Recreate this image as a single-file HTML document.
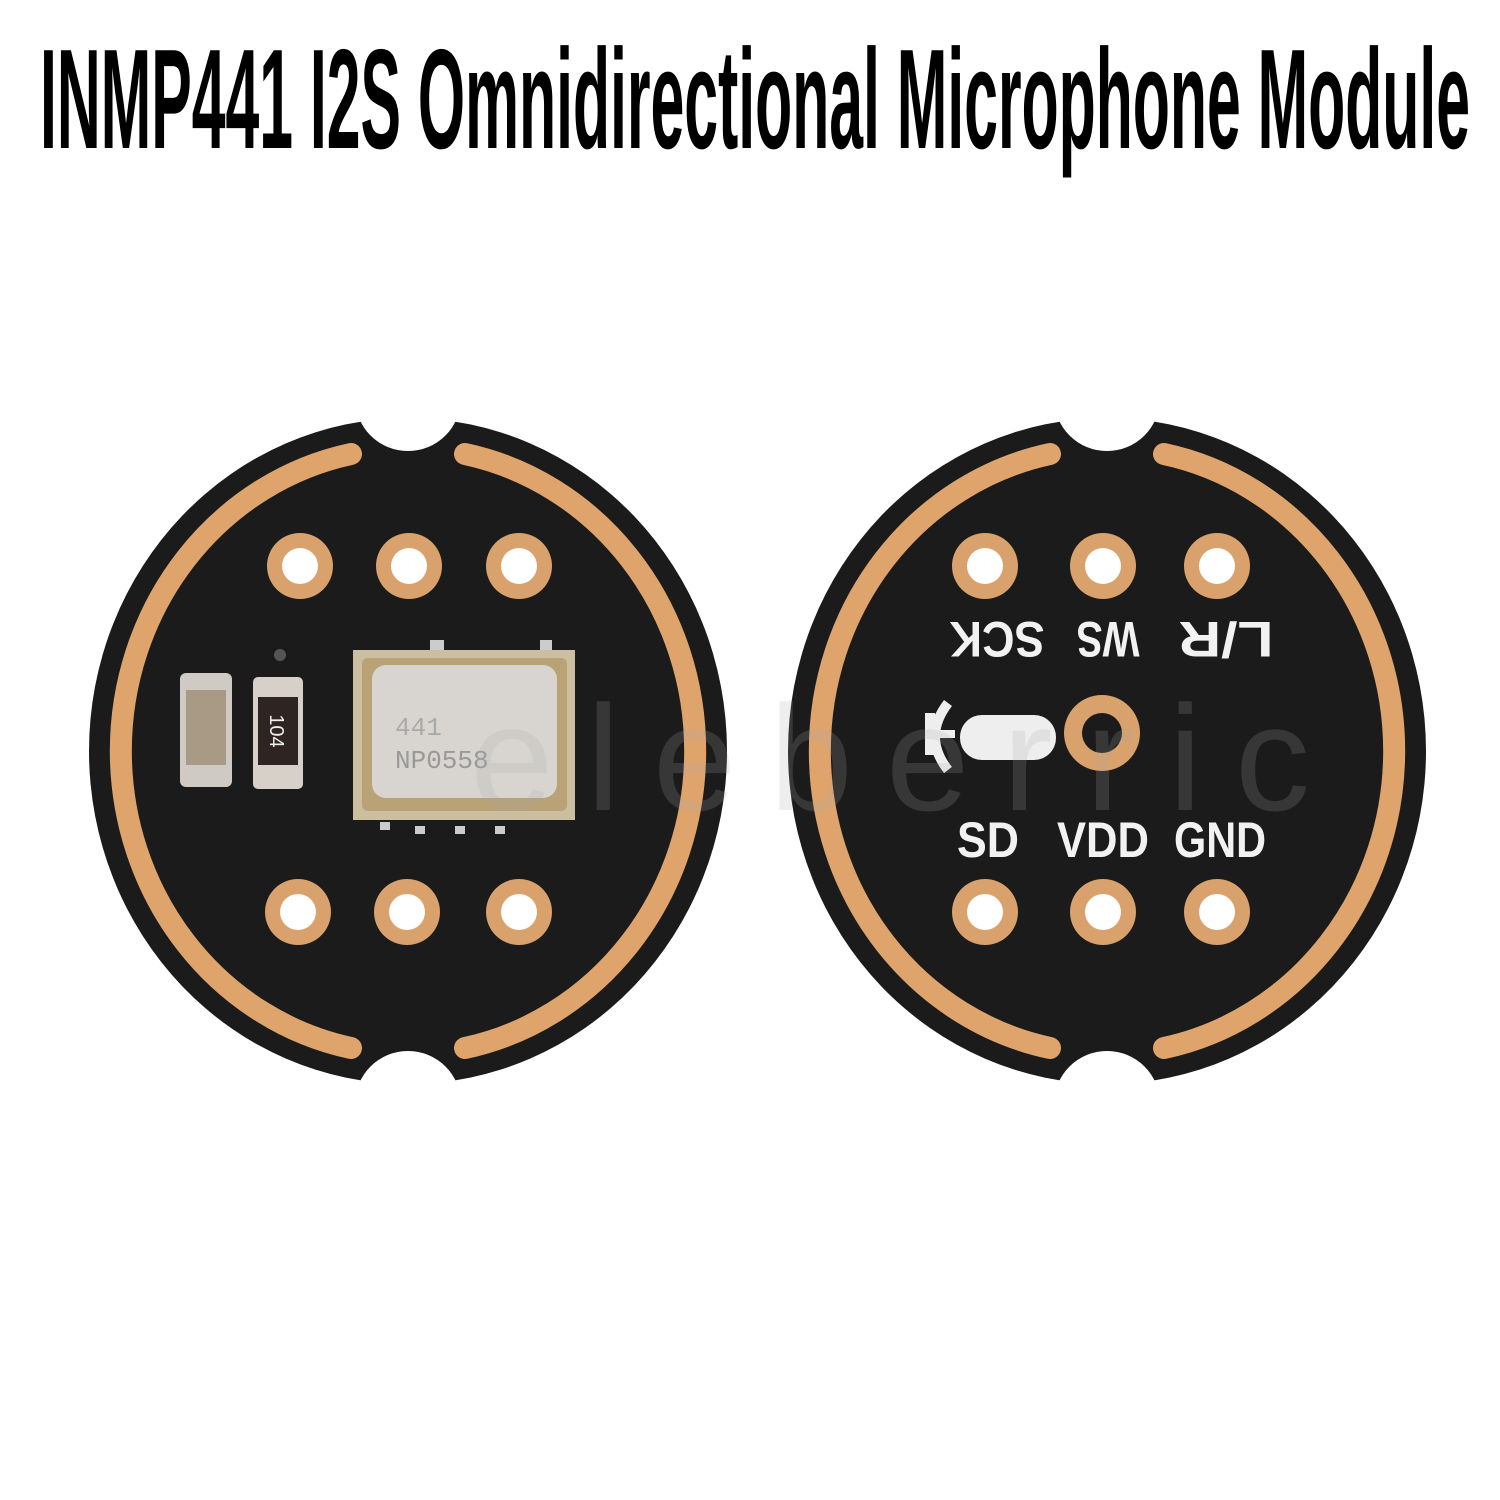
<!DOCTYPE html>
<html><head><meta charset="utf-8"><style>
html,body{margin:0;padding:0;background:#fff;}
svg{display:block;}
</style></head><body>
<svg width="1500" height="1500" viewBox="0 0 1500 1500" xmlns="http://www.w3.org/2000/svg">
<rect width="1500" height="1500" fill="#fff"/>
<text x="40" y="148" font-family="Liberation Sans, sans-serif" font-weight="bold" font-size="142" textLength="1430" lengthAdjust="spacingAndGlyphs" fill="#000">INMP441 I2S Omnidirectional Microphone Module</text>

<!-- LEFT BOARD -->
<g>
<ellipse cx="408" cy="751" rx="319" ry="333" fill="#1b1b1c"/>
<circle cx="408" cy="398" r="53" fill="#fff"/>
<circle cx="408" cy="1104" r="53" fill="#fff"/>
<path d="M 351 454 A 287 303 0 0 0 351 1048" fill="none" stroke="#dea46c" stroke-width="22" stroke-linecap="round"/>
<path d="M 465 454 A 287 303 0 0 1 465 1048" fill="none" stroke="#dea46c" stroke-width="22" stroke-linecap="round"/>
<g fill="#d9a26c">
<circle cx="300" cy="566" r="33"/><circle cx="409" cy="566" r="33"/><circle cx="519" cy="566" r="33"/>
<circle cx="298" cy="912" r="33"/><circle cx="407" cy="912" r="33"/><circle cx="519" cy="912" r="33"/>
</g>
<g fill="#fff">
<circle cx="300" cy="566" r="18"/><circle cx="409" cy="566" r="18"/><circle cx="519" cy="566" r="18"/>
<circle cx="298" cy="912" r="18"/><circle cx="407" cy="912" r="18"/><circle cx="519" cy="912" r="18"/>
</g>
<!-- capacitor -->
<rect x="180" y="673" width="52" height="114" rx="6" fill="#cfcac4"/>
<rect x="186" y="690" width="40" height="75" fill="#a99a85"/>
<!-- resistor -->
<rect x="253" y="677" width="50" height="112" rx="5" fill="#d6d0c8"/>
<rect x="258" y="697" width="40" height="68" fill="#2e2422"/>
<text x="0" y="0" transform="translate(270,731) rotate(90)" text-anchor="middle" font-family="Liberation Sans, sans-serif" font-size="20" fill="#eee">104</text>
<circle cx="280" cy="655" r="6" fill="#555"/>
<!-- mic can -->
<rect x="353" y="650" width="222" height="170" fill="#cbbf9f"/>
<rect x="362" y="658" width="205" height="153" rx="6" fill="#b8a276"/>
<rect x="372" y="665" width="185" height="133" rx="14" fill="#d8d5d0"/>
<text x="395" y="735" font-family="Liberation Mono, monospace" font-size="26" fill="#aaa">441</text>
<text x="395" y="768" font-family="Liberation Mono, monospace" font-size="26" fill="#999">NP0558</text>
<g fill="#ccc"><rect x="380" y="822" width="10" height="8"/><rect x="415" y="826" width="10" height="8"/><rect x="455" y="826" width="10" height="8"/><rect x="495" y="826" width="10" height="8"/><rect x="430" y="640" width="14" height="10"/><rect x="540" y="640" width="12" height="10"/></g>
</g>

<!-- RIGHT BOARD -->
<g>
<ellipse cx="1107" cy="751" rx="319" ry="333" fill="#1b1b1c"/>
<circle cx="1107" cy="398" r="53" fill="#fff"/>
<circle cx="1107" cy="1104" r="53" fill="#fff"/>
<path d="M 1050 454 A 287 303 0 0 0 1050 1048" fill="none" stroke="#dea46c" stroke-width="22" stroke-linecap="round"/>
<path d="M 1164 454 A 287 303 0 0 1 1164 1048" fill="none" stroke="#dea46c" stroke-width="22" stroke-linecap="round"/>
<g fill="#d9a26c">
<circle cx="985" cy="566" r="33"/><circle cx="1103" cy="566" r="33"/><circle cx="1217" cy="566" r="33"/>
<circle cx="985" cy="912" r="33"/><circle cx="1103" cy="912" r="33"/><circle cx="1217" cy="912" r="33"/>
<circle cx="1102" cy="733" r="38"/>
</g>
<g fill="#fff">
<circle cx="985" cy="566" r="18"/><circle cx="1103" cy="566" r="18"/><circle cx="1217" cy="566" r="18"/>
<circle cx="985" cy="912" r="18"/><circle cx="1103" cy="912" r="18"/><circle cx="1217" cy="912" r="18"/>
</g>
<circle cx="1102" cy="733" r="20" fill="#1b1b1c"/>
<rect x="960" y="715" width="96" height="45" rx="22" fill="#eee"/>
<path d="M 948 703 Q 922 737 948 770" fill="none" stroke="#eee" stroke-width="10"/>
<rect x="925" y="713" width="10" height="42" fill="#eee"/>
<rect x="925" y="730" width="30" height="8" fill="#eee"/>
<g font-family="Liberation Sans, sans-serif" font-weight="bold" font-size="50" fill="#f2f2f2" text-anchor="middle">
<text transform="translate(997,640) rotate(180)" y="18" textLength="95" lengthAdjust="spacingAndGlyphs">SCK</text>
<text transform="translate(1108,640) rotate(180)" y="18" textLength="63" lengthAdjust="spacingAndGlyphs">WS</text>
<text transform="translate(1226,640) rotate(180)" y="18" textLength="95" lengthAdjust="spacingAndGlyphs">L/R</text>
<text x="988" y="857" textLength="62" lengthAdjust="spacingAndGlyphs">SD</text>
<text x="1103" y="857" textLength="92" lengthAdjust="spacingAndGlyphs">VDD</text>
<text x="1220" y="857" textLength="92" lengthAdjust="spacingAndGlyphs">GND</text>
</g>
</g>
<text x="470" y="810" font-family="Liberation Sans, sans-serif" font-size="150" fill="#aaa" fill-opacity="0.2" textLength="840" lengthAdjust="spacing">eleberric</text>
</svg>
</body></html>
